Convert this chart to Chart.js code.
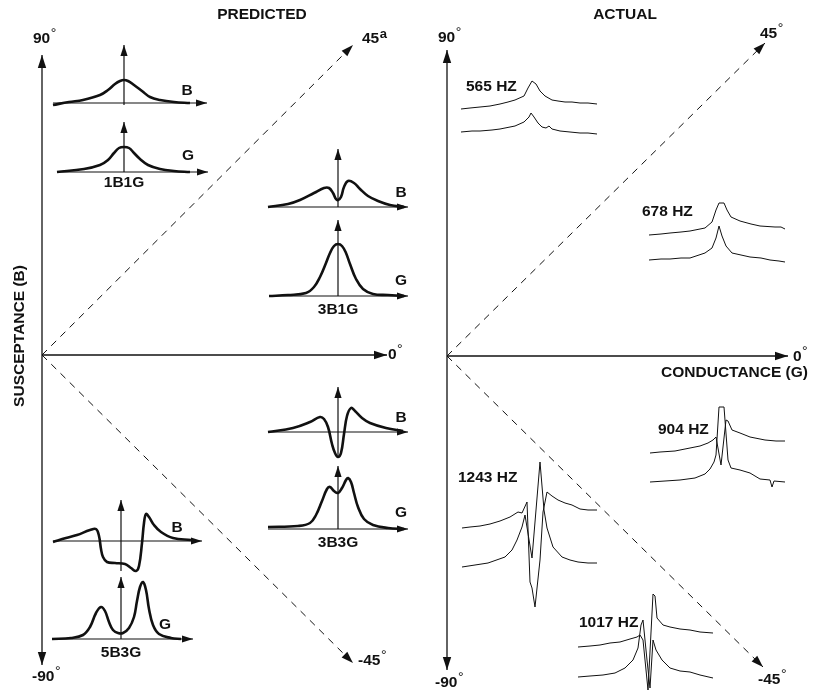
<!DOCTYPE html>
<html>
<head>
<meta charset="utf-8">
<script src="https://cdn.jsdelivr.net/npm/chart.js@4.4.1/dist/chart.umd.min.js"></script>
<style>
    html, body { margin: 0; padding: 0; background: #fff; }
    #wrap { width: 815px; height: 692px; position: relative; }
</style>
</head>
<body>
<div id="wrap"><canvas id="chart"></canvas></div>
<script>
// Curve shapes: [offset from centre line, height above baseline]
const b1b1g = [[-71,-2],[-55,1],[-41,3],[-24,8],[-16,13],[-9,19],[-4,22],[0,23],[4,22],[10,18],[18,12],[26,6],[36,3],[50,1],[66,0]];
const g1b1g = [[-67,0],[-40,3],[-24,7],[-16,12],[-10,19],[-5,24],[0,25],[5,24],[10,19],[16,13],[24,7],[36,3],[50,1],[66,0]];
const b3b1g = [[-70,0],[-50,3],[-38,7],[-24,14],[-14,19],[-9,19],[-5,14],[-2,8],[0,7],[3,10],[6,20],[10,26],[16,24],[22,18],[30,11],[40,6],[52,2],[66,0]];
const g3b1g = [[-69,0],[-50,1],[-32,3],[-24,9],[-18,19],[-12,33],[-8,43],[-4,50],[0,52],[4,50],[8,43],[12,32],[18,17],[25,7],[35,2],[50,1],[66,0]];
const b3b3g = [[-70,0],[-45,4],[-28,10],[-18,15],[-14,13],[-10,5],[-6,-12],[-3,-21],[0,-25],[3,-21],[6,-2],[9,16],[13,24],[17,21],[24,14],[32,9],[48,4],[65,1]];
const g3b3g = [[-70,2],[-40,3],[-28,6],[-22,14],[-16,28],[-11,40],[-8,42],[-4,38],[0,36],[4,41],[8,49],[10,51],[13,47],[16,36],[20,22],[26,10],[35,4],[50,1],[66,0]];
const b5b3g = [[-68,-1],[-55,3],[-44,6],[-31,11],[-25,12],[-22,5],[-20,-8],[-18,-16],[-14,-21],[-6,-22],[4,-23],[10,-27],[15,-30],[18,-25],[21,-2],[23,18],[25,27],[28,24],[33,16],[40,9],[52,3],[70,1]];
const g5b3g = [[-69,0],[-50,1],[-38,4],[-31,12],[-25,26],[-20,32],[-16,28],[-12,17],[-8,9],[-3,6],[2,6],[8,11],[13,22],[16,38],[19,52],[22,57],[25,49],[28,30],[32,14],[38,5],[50,1],[60,0]];

// Measured traces: [offset from resonance, height above left end]
const hz565B = [[-71,0],[-62,1],[-52,2],[-42,3],[-32,5],[-24,7],[-17,9],[-8,13],[-4,21],[0,28],[4,25],[8,18],[13,13],[20,9],[26,8],[33,7],[40,7],[48,6],[56,6],[65,5]];
const hz565G = [[-71,0],[-60,1],[-52,1],[-40,2],[-32,3],[-17,6],[-8,10],[-3,15],[-1,19],[2,15],[6,9],[10,5],[14,4],[17,6],[20,3],[28,1],[38,0],[48,-1],[56,-1],[65,-2]];
const hz678B = [[-72,0],[-60,1],[-51,2],[-40,3],[-31,4],[-16,7],[-9,13],[-5,25],[-2,32],[3,32],[6,25],[10,18],[19,14],[30,11],[39,9],[54,8],[60,8],[64,6]];
const hz678G = [[-72,0],[-60,1],[-51,1],[-40,2],[-31,2],[-16,7],[-9,12],[-5,22],[-2,34],[1,24],[5,14],[11,7],[20,5],[29,3],[40,2],[49,0],[58,-1],[64,-2]];
const hz904B = [[-71,0],[-61,1],[-46,2],[-31,5],[-21,7],[-13,10],[-8,13],[-5,16],[0,-12],[5,33],[7,32],[11,23],[19,20],[29,16],[44,13],[55,12],[64,12]];
const hz904G = [[-71,0],[-56,1],[-41,2],[-26,4],[-16,8],[-11,13],[-7,20],[-5,27],[-2,75],[3,75],[7,22],[10,14],[19,12],[29,9],[39,3],[49,2],[51,-5],[53,1],[64,0]];
const hz1243B = [[-74,0],[-66,1],[-56,2],[-46,4],[-36,7],[-26,11],[-18,16],[-14,15],[-9,26],[-6,-54],[-4,-60],[-1,-79],[4,-32],[7,16],[11,36],[16,32],[22,28],[29,25],[36,23],[44,19],[52,18],[61,18]];
const hz1243G = [[-74,0],[-61,2],[-48,4],[-31,10],[-24,17],[-19,27],[-14,40],[-11,52],[-4,9],[4,105],[8,57],[11,39],[17,20],[26,10],[34,7],[42,5],[52,4],[61,4]];
const hz1017B = [[-72,0],[-60,1],[-50,2],[-40,4],[-30,5],[-20,8],[-13,10],[-10,12],[-7,7],[-2,-43],[3,53],[5,51],[7,29],[13,22],[20,20],[30,18],[40,17],[50,15],[63,14]];
const hz1017G = [[-72,0],[-60,1],[-47,2],[-35,4],[-25,9],[-17,17],[-12,29],[-9,52],[-7,57],[-3,17],[0,-11],[3,37],[6,27],[9,22],[12,17],[20,9],[30,6],[40,5],[50,2],[63,-1]];

const panelTitles = ['PREDICTED', 'ACTUAL'];
const plotNames = ['1B1G', '3B1G', '3B3G', '5B3G'];
const freqLabels = ['565 HZ', '678 HZ', '904 HZ', '1243 HZ', '1017 HZ'];

// Layout (pixel positions on the page)
const predicted = [
    { shape: b1b1g, cx: 124, base: 103, x0: 53, x1: 207, tip: 45, tag: 'B', tx: 187, ty: 91 },
    { shape: g1b1g, cx: 124, base: 172, x0: 57, x1: 208, tip: 122, tag: 'G', tx: 188, ty: 156, name: 0, ny: 183 },
    { shape: b3b1g, cx: 338, base: 207, x0: 268, x1: 408, tip: 149, tag: 'B', tx: 401, ty: 193 },
    { shape: g3b1g, cx: 338, base: 296, x0: 269, x1: 408, tip: 220, tag: 'G', tx: 401, ty: 281, name: 1, ny: 310 },
    { shape: b3b3g, cx: 338, base: 432, x0: 268, x1: 408, tip: 387, tag: 'B', tx: 401, ty: 418 },
    { shape: g3b3g, cx: 338, base: 529, x0: 268, x1: 408, tip: 466, tag: 'G', tx: 401, ty: 513, name: 2, ny: 543 },
    { shape: b5b3g, cx: 121, base: 541, x0: 53, x1: 202, tip: 500, tag: 'B', tx: 177, ty: 528 },
    { shape: g5b3g, cx: 121, base: 639, x0: 52, x1: 193, tip: 577, tag: 'G', tx: 165, ty: 625, name: 3, ny: 653 }
];
const actual = [
    { shape: hz565B, cx: 532, base: 109 }, { shape: hz565G, cx: 532, base: 132 },
    { shape: hz678B, cx: 721, base: 235 }, { shape: hz678G, cx: 721, base: 260 },
    { shape: hz904B, cx: 721, base: 453 }, { shape: hz904G, cx: 721, base: 482 },
    { shape: hz1243B, cx: 536, base: 528 }, { shape: hz1243G, cx: 536, base: 567 },
    { shape: hz1017B, cx: 650, base: 647 }, { shape: hz1017G, cx: 650, base: 677 }
];
const freqPos = [[466, 87], [642, 212], [658, 430], [458, 478], [579, 623]];

// main axes: [x1, y1, x2, y2] with arrow at the second point
const mainAxes = [
    [42, 355, 42, 55], [42, 355, 42, 665], [42, 355, 387, 355],
    [447, 356, 447, 50], [447, 356, 447, 670], [447, 356, 788, 356]
];
const diagonals = [
    [42, 355, 353, 45], [42, 355, 353, 663],
    [447, 356, 765, 43], [447, 356, 763, 667]
];
// angle labels: text, left x, middle y, superscript
const angleLabels = [
    ['90', 33, 39, '°'], ['-90', 32, 677, '°'], ['0', 388, 355, '°'], ['-45', 358, 661, '°'], ['45', 362, 39, 'a'],
    ['90', 438, 38, '°'], ['45', 760, 34, '°'], ['0', 793, 357, '°'], ['-45', 758, 680, '°'], ['-90', 435, 683, '°']
];

const FONT = '"Liberation Sans", Arial, Helvetica, sans-serif';

function place(shape, cx, base) {
    return shape.map(p => ({ x: cx + p[0], y: base - p[1] }));
}

function seg(x1, y1, x2, y2) {
    return [{ x: x1, y: y1 }, { x: x2, y: y2 }];
}

const datasets = [];
const arrows = [];

// small axes + curves for predicted plots
predicted.forEach(p => {
    const low = Math.max(p.base, ...p.shape.map(s => p.base - s[1]));
    datasets.push({ data: seg(p.x0, p.base, p.x1, p.base), borderWidth: 1.2 });
    datasets.push({ data: seg(p.cx, low, p.cx, p.tip), borderWidth: 1.2 });
    datasets.push({ data: place(p.shape, p.cx, p.base), borderWidth: 2.6, tension: 0.4 });
    arrows.push([p.x0, p.base, p.x1, p.base, 11, 3.6]);
    arrows.push([p.cx, p.base, p.cx, p.tip, 11, 3.6]);
});

actual.forEach(a => {
    datasets.push({ data: place(a.shape, a.cx, a.base), borderWidth: 1 });
});

mainAxes.forEach(a => {
    datasets.push({ data: seg(...a), borderWidth: 1.3 });
    arrows.push([...a, 13, 4.2]);
});

diagonals.forEach(a => {
    datasets.push({ data: seg(...a), borderWidth: 1, borderDash: [7, 6] });
    arrows.push([...a, 12, 4]);
});

datasets.forEach(d => {
    d.showLine = true;
    d.pointRadius = 0;
    d.borderColor = '#111';
    d.fill = false;
    d.clip = false;
});

// Arrowheads and text drawn on top of the datasets
const decorations = {
    id: 'decorations',
    afterDatasetsDraw(chart) {
        const { ctx, scales } = chart;
        const px = v => scales.x.getPixelForValue(v);
        const py = v => scales.y.getPixelForValue(v);
        ctx.save();
        ctx.fillStyle = '#111';

        arrows.forEach(([x1, y1, x2, y2, len, half]) => {
            const ax = px(x2), ay = py(y2);
            const ang = Math.atan2(ay - py(y1), ax - px(x1));
            ctx.beginPath();
            ctx.moveTo(ax, ay);
            ctx.lineTo(ax - len * Math.cos(ang) + half * Math.sin(ang), ay - len * Math.sin(ang) - half * Math.cos(ang));
            ctx.lineTo(ax - len * Math.cos(ang) - half * Math.sin(ang), ay - len * Math.sin(ang) + half * Math.cos(ang));
            ctx.closePath();
            ctx.fill();
        });

        ctx.textBaseline = 'middle';
        ctx.font = 'bold 15.5px ' + FONT;
        ctx.textAlign = 'center';
        ctx.fillText(panelTitles[0], px(262), py(15));
        ctx.fillText(panelTitles[1], px(625), py(15));

        predicted.forEach(p => {
            ctx.textAlign = 'center';
            ctx.fillText(p.tag, px(p.tx), py(p.ty));
            if (p.name !== undefined) ctx.fillText(plotNames[p.name], px(p.cx), py(p.ny));
        });

        ctx.textAlign = 'left';
        freqLabels.forEach((t, i) => ctx.fillText(t, px(freqPos[i][0]), py(freqPos[i][1])));

        ctx.textAlign = 'right';
        ctx.fillText('CONDUCTANCE (G)', px(808), py(373));

        angleLabels.forEach(([t, x, y, sup]) => {
            ctx.font = 'bold 15.5px ' + FONT;
            ctx.textAlign = 'left';
            ctx.fillText(t, px(x), py(y));
            const w = ctx.measureText(t).width;
            ctx.font = sup === 'a' ? 'bold 13px ' + FONT : '14px ' + FONT;
            ctx.fillText(sup, px(x) + w + 0.5, py(y) - 5);
        });

        ctx.font = 'bold 15.5px ' + FONT;
        ctx.translate(px(20), py(336));
        ctx.rotate(-Math.PI / 2);
        ctx.textAlign = 'center';
        ctx.fillText('SUSCEPTANCE (B)', 0, 0);
        ctx.restore();
    }
};

new Chart(document.getElementById('chart'), {
    type: 'scatter',
    data: { datasets },
    options: {
        responsive: true,
        maintainAspectRatio: false,
        animation: false,
        events: [],
        layout: { padding: 0 },
        scales: {
            x: { type: 'linear', min: 0, max: 815, display: false },
            y: { type: 'linear', min: 0, max: 692, reverse: true, display: false }
        },
        plugins: { legend: { display: false }, tooltip: { enabled: false } }
    },
    plugins: [decorations]
});
</script>
</body>
</html>
